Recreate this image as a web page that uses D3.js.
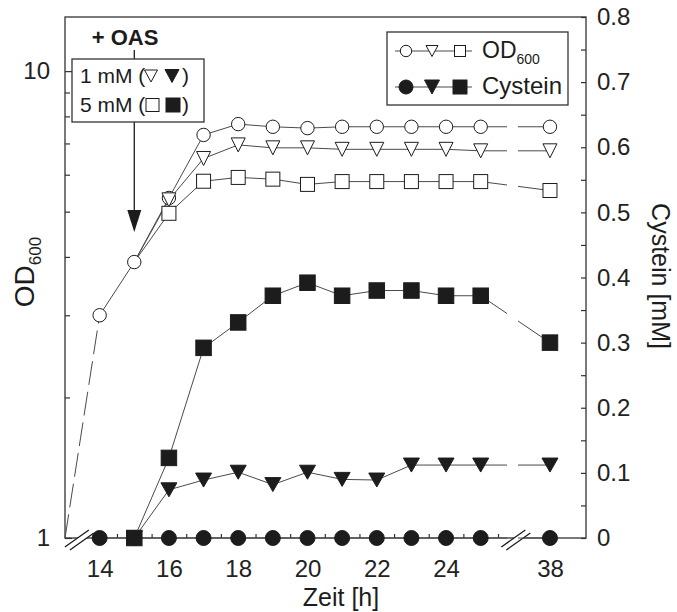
<!DOCTYPE html>
<html>
<head>
<meta charset="utf-8">
<script src="https://cdn.jsdelivr.net/npm/d3@7"></script>
<style>
  body { margin: 0; background: #fff; }
  svg { display: block; font-family: "Liberation Sans", Arial, sans-serif; }
</style>
</head>
<body>
<svg id="chart" width="677" height="612"></svg>
<script>
// sampling times [h]; 38 h sits behind the axis break
const hours = [14, 15, 16, 17, 18, 19, 20, 21, 22, 23, 24, 25, 38];

// OD600 (left, log axis)
const odControl = [3.0, 3.9, 5.35, 7.3, 7.7, 7.6, 7.55, 7.6, 7.6, 7.6, 7.6, 7.6, 7.6];
const odOas1 = [null, 3.9, 5.3, 6.5, 6.95, 6.85, 6.85, 6.8, 6.8, 6.8, 6.8, 6.75, 6.75];
const odOas5 = [null, 3.9, 4.96, 5.81, 5.92, 5.87, 5.72, 5.8, 5.8, 5.8, 5.8, 5.8, 5.55];

// Cystein [mM] (right axis)
const cysControl = [0, 0, 0, 0, 0, 0, 0, 0, 0, 0, 0, 0, 0];
const cysOas1 = [null, 0, 0.074, 0.089, 0.101, 0.082, 0.101, 0.09, 0.089, 0.112, 0.112, 0.112, 0.112];
const cysOas5 = [null, 0, 0.123, 0.292, 0.331, 0.372, 0.392, 0.372, 0.38, 0.38, 0.372, 0.372, 0.30];

const oasHour = 15;          // OAS added
const inoculum = [13, 1];    // start of the dashed lead-in (hour, OD)

const xTickLabels = [14, 16, 18, 20, 22, 24, 38];
const odTicks = [1, 2, 3, 4, 5, 6, 7, 8, 9, 10];
const cysTicks = d3.range(0, 17).map(i => i * 0.05);

const svg = d3.select('#chart');
const m = {l: 65, r: 586, t: 17, b: 538};
const hourGap = 11;   // 27 on the axis stands for 38

let x = d3.scaleLinear().domain([13, 28.04]).range([m.l, m.r]);
let pos = t => x(t > 30 ? t - hourGap : t);
let yOd = d3.scaleLog().domain([1, 13.06]).range([m.b, m.t]);
let yCys = d3.scaleLinear().domain([0, 0.8]).range([m.b, m.t]);

const ink = '#1c1c1c';
const lineCol = '#4a4a4a';

// ---- axes
let gLeft = svg.append('g').attr('transform', `translate(${m.l},0)`)
  .call(d3.axisLeft(yOd).tickValues(odTicks).tickSize(-6).tickPadding(15)
    .tickFormat(d => (d == 1 || d == 10) ? d : ''));
gLeft.selectAll('.tick line').attr('x2', d => (d == 1 || d == 10) ? 7 : 5);

let gRight = svg.append('g').attr('transform', `translate(${m.r},0)`)
  .call(d3.axisRight(yCys).tickValues(cysTicks).tickSize(-5).tickPadding(11)
    .tickFormat((d, i) => i % 2 ? '' : (i == 0 ? '0' : d.toFixed(1))));

let gBottomMinor = svg.append('g').attr('transform', `translate(0,${m.b})`)
  .call(d3.axisBottom(x).tickValues(d3.range(13.5, 26, 0.5)).tickSize(-4).tickFormat(''));

let gBottom = svg.append('g').attr('transform', `translate(0,${m.b})`)
  .call(d3.axisBottom(x).tickValues(xTickLabels.map(h => h > 30 ? h - hourGap : h))
    .tickSize(-6).tickPadding(22).tickFormat((d, i) => xTickLabels[i]));

[gLeft, gRight, gBottomMinor, gBottom].forEach(g => {
  g.select('.domain').remove();
  g.selectAll('.tick line').attr('stroke', '#333').attr('stroke-width', 1.2);
  g.selectAll('text').attr('font-size', 24).attr('fill', '#222')
    .attr('font-family', '"Liberation Sans", Arial, sans-serif');
});

svg.append('rect')
  .attr('x', m.l).attr('y', m.t)
  .attr('width', m.r - m.l).attr('height', m.b - m.t)
  .attr('fill', 'none').attr('stroke', '#333').attr('stroke-width', 1.3);

// axis breaks
[x(13.4), x(26)].forEach(cx => {
  let cy = m.b + 1;
  svg.append('polygon')
    .attr('points', [[cx - 14, cy + 8], [cx + 10, cy - 9], [cx + 15, cy - 6], [cx - 9, cy + 11]].join(' '))
    .attr('fill', '#fff');
  [[-14, 8, 10, -9], [-9, 11, 15, -6]].forEach(s => {
    svg.append('line')
      .attr('x1', cx + s[0]).attr('y1', cy + s[1])
      .attr('x2', cx + s[2]).attr('y2', cy + s[3])
      .attr('stroke', ink).attr('stroke-width', 1.3);
  });
});

// ---- lines
function seriesPoints(vals, scale){
  return hours.map((h, i) => ({h: h, v: vals[i], x: pos(h), y: vals[i] == null ? null : scale(vals[i])}))
    .filter(d => d.v != null);
}

function drawSeriesLine(pts){
  let before = pts.filter(d => d.h <= 25);
  svg.append('path')
    .attr('d', d3.line().x(d => d.x).y(d => d.y)(before))
    .attr('fill', 'none').attr('stroke', lineCol).attr('stroke-width', 1);

  let a = pts.find(d => d.h == 25), b = pts.find(d => d.h == 38);
  let L = Math.hypot(b.x - a.x, b.y - a.y);
  let f1 = (507 - a.x) / (b.x - a.x), f2 = 11 / (b.x - a.x);
  svg.append('line')
    .attr('x1', a.x).attr('y1', a.y).attr('x2', b.x).attr('y2', b.y)
    .attr('stroke', lineCol).attr('stroke-width', 1)
    .attr('stroke-dasharray', `${L * f1} ${L * f2} ${L}`);
}

let odC = seriesPoints(odControl, yOd);
let od1 = seriesPoints(odOas1, yOd);
let od5 = seriesPoints(odOas5, yOd);
let cyC = seriesPoints(cysControl, yCys);
let cy1 = seriesPoints(cysOas1, yCys);
let cy5 = seriesPoints(cysOas5, yCys);

// dashed lead-in from the inoculum
svg.append('line')
  .attr('x1', x(inoculum[0])).attr('y1', yOd(inoculum[1]))
  .attr('x2', odC[0].x).attr('y2', odC[0].y)
  .attr('stroke', lineCol).attr('stroke-width', 1)
  .attr('stroke-dasharray', '24,7');

[odC, od1, od5, cyC, cy1, cy5].forEach(drawSeriesLine);

// ---- markers
function tri(cx, cy, w, h){
  return `M${cx - w / 2},${cy - h / 2}L${cx + w / 2},${cy - h / 2}L${cx},${cy + h / 2}Z`;
}

function circles(pts, r, fill){
  svg.append('g').selectAll('circle').data(pts).join('circle')
    .attr('cx', d => d.x).attr('cy', d => d.y).attr('r', r)
    .attr('fill', fill).attr('stroke', ink).attr('stroke-width', 1);
}
function triangles(pts, w, h, fill){
  svg.append('g').selectAll('path').data(pts).join('path')
    .attr('d', d => tri(d.x, d.y, w, h))
    .attr('fill', fill).attr('stroke', ink).attr('stroke-width', 1);
}
function squares(pts, s, fill){
  svg.append('g').selectAll('rect').data(pts).join('rect')
    .attr('x', d => d.x - s / 2).attr('y', d => d.y - s / 2)
    .attr('width', s).attr('height', s)
    .attr('fill', fill).attr('stroke', ink).attr('stroke-width', 1);
}

circles(odC, 6.7, '#fff');
triangles(od1.filter(d => d.h > oasHour), 14, 14, '#fff');
squares(od5.filter(d => d.h > oasHour), 14, '#fff');
circles(cyC, 7.5, ink);
triangles(cy1, 16, 14, ink);
squares(cy5, 15.5, ink);

// ---- OAS annotation
let ax = pos(oasHour);
svg.append('line')
  .attr('x1', ax).attr('y1', 50).attr('x2', ax).attr('y2', 212)
  .attr('stroke', ink).attr('stroke-width', 1.3);
svg.append('path')
  .attr('d', `M${ax - 7},210L${ax + 7},210L${ax},232Z`).attr('fill', ink);
svg.append('text').attr('x', 125).attr('y', 45)
  .attr('text-anchor', 'middle').attr('font-size', 22).attr('font-weight', 'bold')
  .attr('fill', ink).text('+ OAS');

svg.append('rect').attr('x', 72).attr('y', 59).attr('width', 132).attr('height', 63)
  .attr('fill', '#fff').attr('stroke', '#333').attr('stroke-width', 1.3);

[['1 mM (', 83, 'tri'], ['5 mM (', 112, 'sq']].forEach(row => {
  svg.append('text').attr('x', 80).attr('y', row[1]).attr('font-size', 21)
    .attr('fill', ink).text(row[0]);
  svg.append('text').attr('x', 182).attr('y', row[1]).attr('font-size', 21)
    .attr('fill', ink).text(')');
  let cy = row[1] - 7;
  if(row[2] == 'tri'){
    svg.append('path').attr('d', tri(151, cy, 13, 12)).attr('fill', '#fff').attr('stroke', ink);
    svg.append('path').attr('d', tri(172, cy, 14, 13)).attr('fill', ink).attr('stroke', ink);
  } else {
    svg.append('rect').attr('x', 146).attr('y', cy - 6.5).attr('width', 13).attr('height', 13)
      .attr('fill', '#fff').attr('stroke', ink);
    svg.append('rect').attr('x', 166).attr('y', cy - 7).attr('width', 14).attr('height', 14)
      .attr('fill', ink).attr('stroke', ink);
  }
});

// ---- legend
svg.append('rect').attr('x', 387).attr('y', 32).attr('width', 181).attr('height', 73)
  .attr('fill', '#fff').attr('stroke', '#333').attr('stroke-width', 1.3);

[[51, '#fff', 5.7, 12, 11], [87, ink, 7, 15, 14]].forEach(r => {
  let cy = r[0];
  svg.append('line').attr('x1', 395).attr('y1', cy).attr('x2', 472).attr('y2', cy)
    .attr('stroke', lineCol).attr('stroke-width', 1);
  svg.append('circle').attr('cx', 406).attr('cy', cy).attr('r', r[2])
    .attr('fill', r[1]).attr('stroke', ink);
  svg.append('path').attr('d', tri(432, cy, r[3], r[3] - 1)).attr('fill', r[1]).attr('stroke', ink);
  svg.append('rect').attr('x', 460 - r[4] / 2).attr('y', cy - r[4] / 2)
    .attr('width', r[4]).attr('height', r[4]).attr('fill', r[1]).attr('stroke', ink);
});

let odLeg = svg.append('text').attr('x', 482).attr('y', 58).attr('font-size', 23).attr('fill', ink);
odLeg.append('tspan').text('OD');
odLeg.append('tspan').attr('font-size', 14).attr('dy', 6).text('600');
svg.append('text').attr('x', 482).attr('y', 94).attr('font-size', 24).attr('fill', ink).text('Cystein');

// ---- axis titles
let odTitle = svg.append('text').attr('transform', 'translate(34,272) rotate(-90)')
  .attr('text-anchor', 'middle').attr('font-size', 28).attr('fill', ink);
odTitle.append('tspan').text('OD');
odTitle.append('tspan').attr('font-size', 17).attr('dy', 7).text('600');

svg.append('text').attr('transform', 'translate(652,276) rotate(90)')
  .attr('text-anchor', 'middle').attr('font-size', 25).attr('fill', ink).text('Cystein [mM]');

svg.append('text').attr('x', 341).attr('y', 606)
  .attr('text-anchor', 'middle').attr('font-size', 25).attr('fill', ink).text('Zeit [h]');
</script>
</body>
</html>
